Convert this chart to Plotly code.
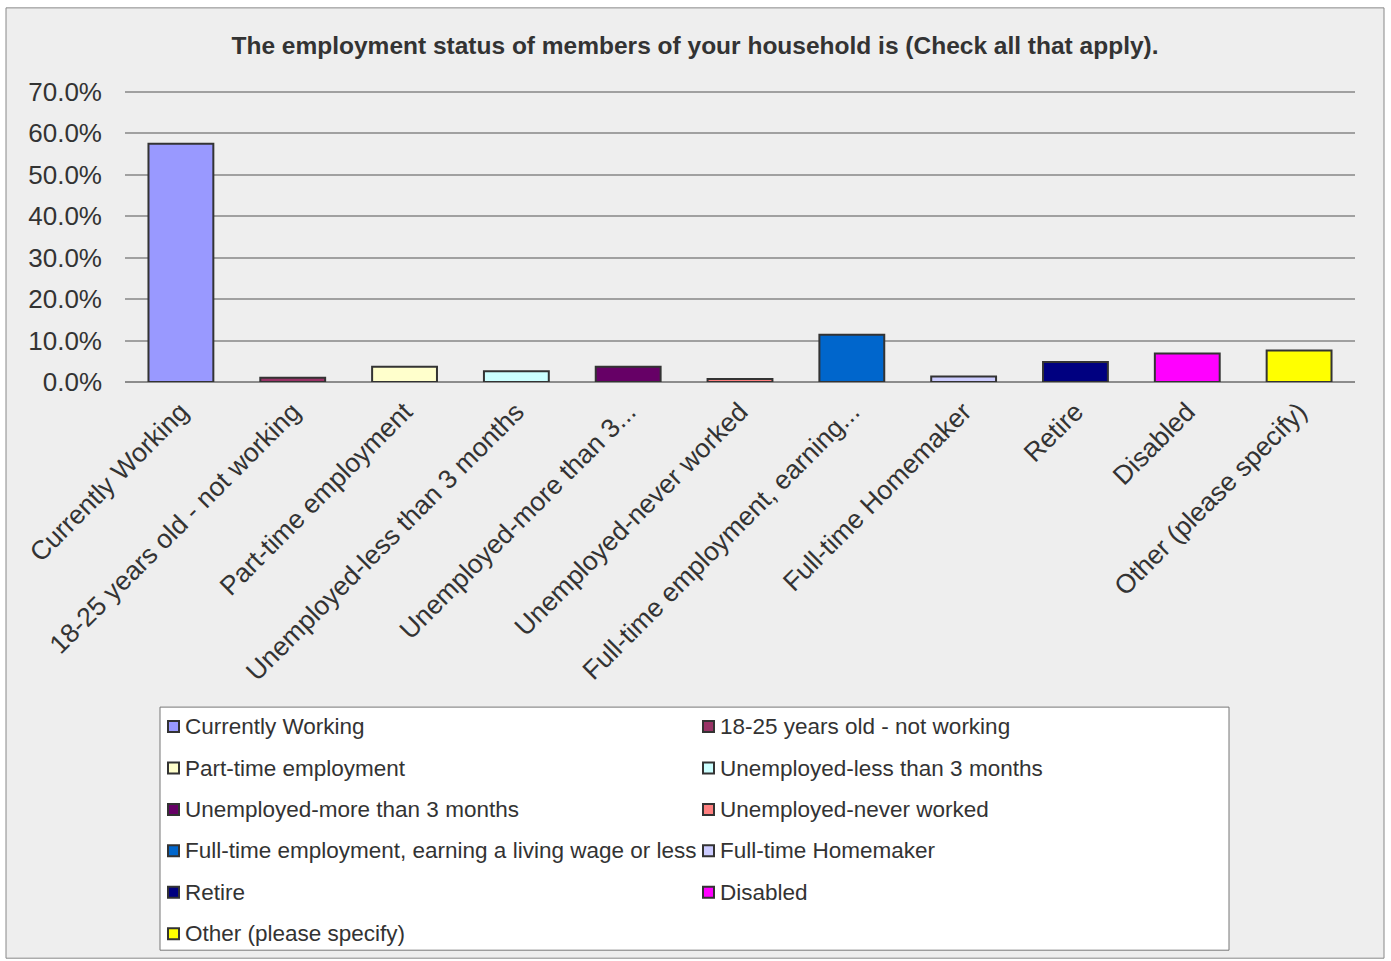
import plotly.graph_objects as go

# Survey responses: share of households reporting each employment status
categories = [
    "Currently Working",
    "18-25 years old - not working",
    "Part-time employment",
    "Unemployed-less than 3 months",
    "Unemployed-more than 3 months",
    "Unemployed-never worked",
    "Full-time employment, earning a living wage or less",
    "Full-time Homemaker",
    "Retire",
    "Disabled",
    "Other (please specify)",
]
tick_labels = [
    "Currently Working",
    "18-25 years old - not working",
    "Part-time employment",
    "Unemployed-less than 3 months",
    "Unemployed-more than 3...",
    "Unemployed-never worked",
    "Full-time employment, earning...",
    "Full-time Homemaker",
    "Retire",
    "Disabled",
    "Other (please specify)",
]
percent = [57.5, 1.0, 3.7, 2.6, 3.7, 0.7, 11.4, 1.3, 4.8, 6.9, 7.6]
colors = [
    "#9999FF", "#993366", "#FFFFCC", "#CCFFFF", "#660066", "#FF8080",
    "#0066CC", "#CCCCFF", "#000080", "#FF00FF", "#FFFF00",
]
y_ticks = [0, 10, 20, 30, 40, 50, 60, 70]

W, H = 1391, 961
PL, PR, PT, PB = 125, 1355, 92, 382      # pixel box spanning 0%..70%
PW, PH = PR - PL, PB - PT
HEADROOM = 0.01                          # extra range so the 70% gridline is drawn
FONT = "Liberation Sans, Arial, sans-serif"
TXT = "#333333"


def px_x(px):
    return (px - PL) / PW


def px_y(py):
    return (PB - py) / (PH * (1 + HEADROOM))


fig = go.Figure()
for cat, val, col in zip(categories, percent, colors):
    fig.add_trace(go.Bar(
        x=[cat], y=[val / 100], name=cat,
        marker=dict(color=col, line=dict(color="#333333", width=2)),
        width=0.58, showlegend=False,
        hovertemplate="%{x}: %{y:.1%}<extra></extra>",
    ))

fig.update_layout(
    width=W, height=H,
    margin=dict(l=PL, r=W - PR, t=PT - PH * HEADROOM, b=H - PB),
    paper_bgcolor="white",
    plot_bgcolor="#EEEEEE",
    barmode="overlay",
    font=dict(family=FONT, color=TXT),
    title=dict(
        text="<b>The employment status of members of your household is (Check all that apply).</b>",
        x=695 / W, xref="container", xanchor="center",
        y=1 - 45 / H, yref="container", yanchor="middle",
        font=dict(size=24.5, color=TXT, family=FONT),
    ),
    xaxis=dict(
        type="category", categoryorder="array", categoryarray=categories,
        tickmode="array", tickvals=categories, ticktext=tick_labels,
        tickangle=-45, tickfont=dict(size=26.5, color=TXT),
        ticklabelstandoff=8,
        showgrid=False, showline=False, ticks="", automargin=False,
    ),
    yaxis=dict(
        range=[0, 0.7 * (1 + HEADROOM)], tickvals=[v / 100 for v in y_ticks],
        tickformat=".1%",
        tickfont=dict(size=26, color=TXT), ticklabelstandoff=22,
        showgrid=True, gridcolor="#A0A0A0", gridwidth=1.5,
        zeroline=True, zerolinecolor="#8C8C8C", zerolinewidth=2,
        ticks="", automargin=False, showline=False,
    ),
    showlegend=False,
)

# Chart-area background and frame
fig.add_shape(
    type="rect", xref="paper", yref="paper", layer="below",
    x0=px_x(6), x1=px_x(1384), y0=px_y(958), y1=px_y(8),
    fillcolor="#EEEEEE", line=dict(color="#888888", width=1),
)

# Two-column legend box below the axis labels
LEG_X0, LEG_X1, LEG_Y0, LEG_Y1 = 160, 1229, 707, 950
COL_W, ROW_H, ROW0 = 535, 41.4, 726.5
fig.add_shape(
    type="rect", xref="paper", yref="paper",
    x0=px_x(LEG_X0), x1=px_x(LEG_X1), y0=px_y(LEG_Y1), y1=px_y(LEG_Y0),
    fillcolor="white", line=dict(color="#777777", width=1),
)
for i, (cat, col) in enumerate(zip(categories, colors)):
    row, c = divmod(i, 2)
    sx = LEG_X0 + 8 + c * COL_W
    cy = ROW0 + row * ROW_H
    fig.add_shape(
        type="rect", xref="paper", yref="paper",
        x0=px_x(sx), x1=px_x(sx + 11), y0=px_y(cy + 5.5), y1=px_y(cy - 5.5),
        fillcolor=col, line=dict(color="#333333", width=2),
    )
    fig.add_annotation(
        x=px_x(sx + 15), y=px_y(cy), xref="paper", yref="paper",
        text=cat, showarrow=False, xanchor="left", yanchor="middle",
        font=dict(size=22.5, color=TXT, family=FONT),
    )

fig.write_html("out.html")
